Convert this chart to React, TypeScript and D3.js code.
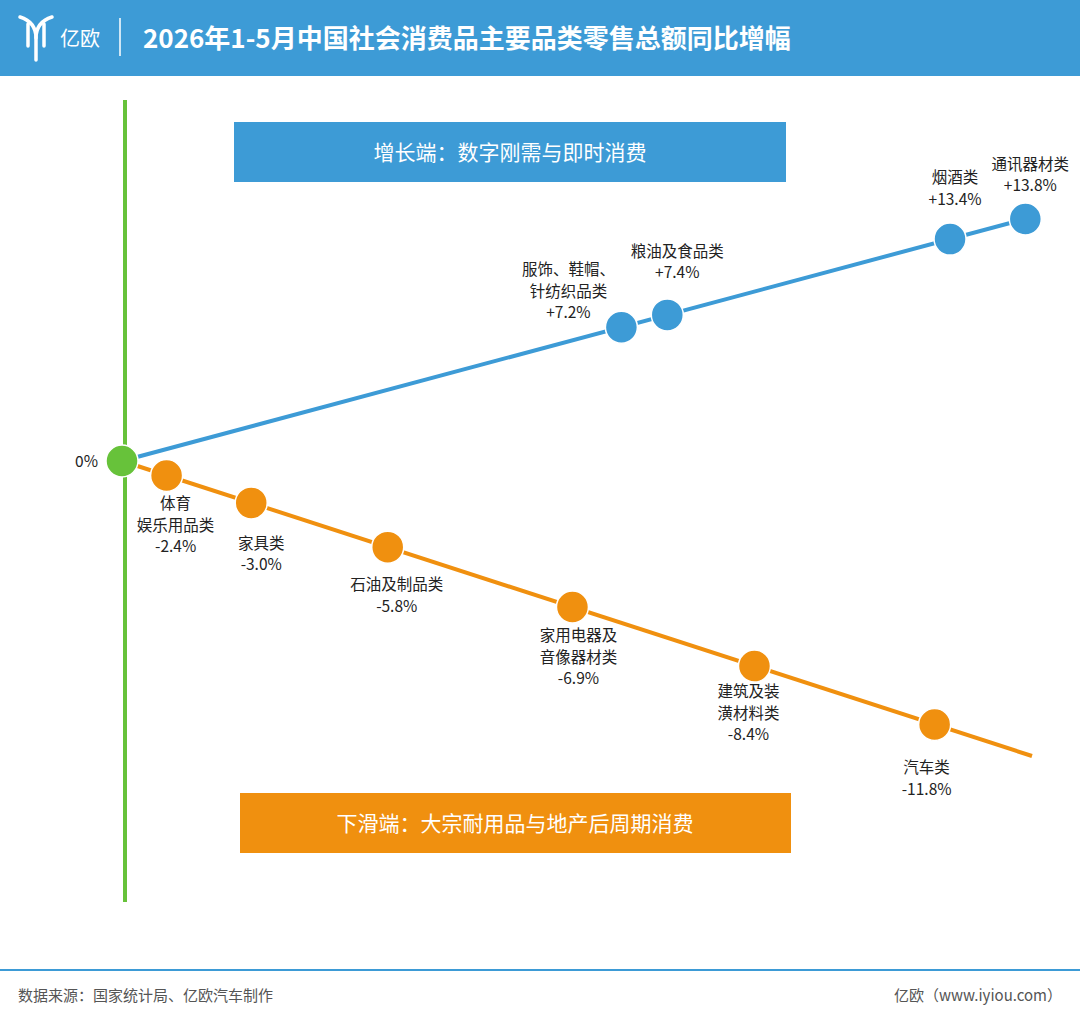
import React, { useEffect } from 'react';
import * as d3 from 'd3';

// growth side
const upNames = [['服饰、鞋帽、', '针纺织品类'], ['粮油及食品类'], ['烟酒类'], ['通讯器材类']];
const upValues = [7.2, 7.4, 13.4, 13.8];
const upTrack = [0.544, 0.594, 0.902, 0.984]; // position along the line (0-1)

// decline side
const downNames = [['体育', '娱乐用品类'], ['家具类'], ['石油及制品类'], ['家用电器及', '音像器材类'], ['建筑及装', '潢材料类'], ['汽车类']];
const downValues = [-2.4, -3.0, -5.8, -6.9, -8.4, -11.8];
const downTrack = [0.049, 0.142, 0.292, 0.495, 0.695, 0.893];

// label offsets relative to dot (center x, first baseline y)
const upLabelOff = [[-53, -52], [10, -58], [5, -56], [5, -49]];
const downLabelOff = [[9, 34], [10, 46], [9, 43], [6, 34], [-6, 31], [-8, 49]];

const BLUE = '#3d9bd6';
const ORANGE = '#f0900f';
const GREEN = '#67c23a';
const FONT = '"Noto Sans CJK SC", "Noto Sans", sans-serif';

const fmt = (v: number) => (v > 0 ? '+' : '') + v.toFixed(1) + '%';

const App: React.FC = () => {
  useEffect(() => {
    document.body.style.margin = '0';
  }, []);

  const origin = { x: 122, y: 461 };
  const upX = d3.scaleLinear().domain([0, 1]).range([origin.x, 1040]);
  const upY = d3.scaleLinear().domain([0, 1]).range([origin.y, 215]);
  const dnX = d3.scaleLinear().domain([0, 1]).range([origin.x, 1032]);
  const dnY = d3.scaleLinear().domain([0, 1]).range([origin.y, 756]);

  const label = (lines: string[], v: number, x: number, y: number, key: string) => (
    <text key={key} x={x} y={y} textAnchor="middle" fontSize={15.5} fill="#222" fontFamily={FONT}>
      {[...lines, fmt(v)].map((l, i) => (
        <tspan key={i} x={x} dy={i === 0 ? 0 : 21.5}>{l}</tspan>
      ))}
    </text>
  );

  return (
    <svg width={1080} height={1022} style={{ display: 'block', background: '#fff' }} fontFamily={FONT}>
      <rect x={0} y={0} width={1080} height={76} fill={BLUE} />
      <g fill="none" stroke="#fff" strokeWidth={3.5} strokeLinecap="round">
        <path d="M20,17 Q36,22 36,38 L36,60" />
        <path d="M52,17 Q36,22 36,38" />
        <path d="M28,24 L28,46" />
        <path d="M44,24 L44,46" />
      </g>
      <text x={60} y={46} fill="#fff" fontSize={20}>亿欧</text>
      <line x1={120} x2={120} y1={18} y2={56} stroke="#fff" strokeWidth={1.5} />
      <text x={143} y={48} fill="#fff" fontSize={26} fontWeight="bold">2026年1-5月中国社会消费品主要品类零售总额同比增幅</text>

      <line x1={125} x2={125} y1={100} y2={902} stroke={GREEN} strokeWidth={4} />
      <line x1={origin.x} y1={origin.y} x2={upX(1)} y2={upY(1)} stroke={BLUE} strokeWidth={4} />
      <line x1={origin.x} y1={origin.y} x2={dnX(1)} y2={dnY(1)} stroke={ORANGE} strokeWidth={4} />

      <rect x={234} y={122} width={552} height={60} fill={BLUE} />
      <text x={510} y={160} textAnchor="middle" fill="#fff" fontSize={21}>增长端：数字刚需与即时消费</text>
      <rect x={240} y={793} width={551} height={60} fill={ORANGE} />
      <text x={515} y={831} textAnchor="middle" fill="#fff" fontSize={21}>下滑端：大宗耐用品与地产后周期消费</text>

      {upTrack.map((t, i) => (
        <circle key={'u' + i} cx={upX(t)} cy={upY(t)} r={16} fill={BLUE} stroke="#fff" strokeWidth={1.5} />
      ))}
      {downTrack.map((t, i) => (
        <circle key={'d' + i} cx={dnX(t)} cy={dnY(t)} r={16} fill={ORANGE} stroke="#fff" strokeWidth={1.5} />
      ))}
      <circle cx={origin.x} cy={origin.y} r={16} fill={GREEN} stroke="#fff" strokeWidth={1.5} />
      <text x={98} y={467} textAnchor="end" fontSize={15.5} fill="#222">0%</text>

      {upTrack.map((t, i) =>
        label(upNames[i], upValues[i], upX(t) + upLabelOff[i][0], upY(t) + upLabelOff[i][1], 'ul' + i)
      )}
      {downTrack.map((t, i) =>
        label(downNames[i], downValues[i], dnX(t) + downLabelOff[i][0], dnY(t) + downLabelOff[i][1], 'dl' + i)
      )}

      <line x1={0} x2={1080} y1={970} y2={970} stroke={BLUE} strokeWidth={2} />
      <text x={18} y={1001} fontSize={15} fill="#555">数据来源：国家统计局、亿欧汽车制作</text>
      <text x={1062} y={1001} textAnchor="end" fontSize={15} fill="#555">亿欧（www.iyiou.com）</text>
    </svg>
  );
};

export default App;
